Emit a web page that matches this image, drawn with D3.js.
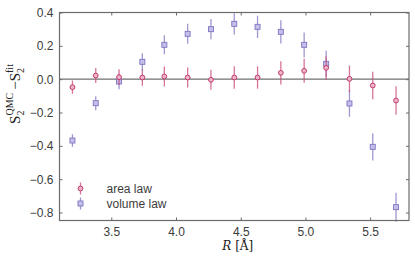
<!DOCTYPE html>
<html><head><meta charset="utf-8">
<script src="https://cdn.jsdelivr.net/npm/d3@7"></script>
<style>html,body{margin:0;padding:0;background:#fff;}svg{display:block;}</style>
</head><body>
<script>
const R = [3.20, 3.38, 3.56, 3.74, 3.91, 4.09, 4.27, 4.45, 4.63, 4.81, 4.99, 5.16, 5.34, 5.52, 5.70];
const areaLaw = [-0.048, 0.022, 0.012, 0.010, 0.016, 0.010, -0.004, 0.010, 0.010, 0.038, 0.050, 0.068, 0.002, -0.038, -0.128];
const areaErr = [0.040, 0.045, 0.047, 0.050, 0.060, 0.060, 0.060, 0.067, 0.067, 0.070, 0.072, 0.070, 0.080, 0.083, 0.085];
const volumeLaw = [-0.368, -0.144, -0.014, 0.104, 0.206, 0.272, 0.300, 0.332, 0.314, 0.284, 0.206, 0.092, -0.146, -0.406, -0.768];
const volumeErr = [0.038, 0.042, 0.047, 0.052, 0.057, 0.060, 0.061, 0.064, 0.067, 0.070, 0.074, 0.079, 0.080, 0.082, 0.087];
const xTicks = [3.5, 4.0, 4.5, 5.0, 5.5];
const yTicks = [0.4, 0.2, 0.0, -0.2, -0.4, -0.6, -0.8];
const seriesNames = ["area law", "volume law"];

const W = 415, H = 259;
const m = {left: 59.5, right: 6, top: 12.5, bottom: 38.5};
const svg = d3.select("body").append("svg").attr("width", W).attr("height", H);
const x = d3.scaleLinear().domain([3.1, 5.8]).range([m.left, W - m.right]);
const y = d3.scaleLinear().domain([-0.848, 0.4]).range([H - m.bottom, m.top]);

const axisColor = "#6b6b6b";
const font = "'Liberation Sans', Arial, sans-serif";
const textColor = "#3c3c3c";

// zero line
svg.append("line").attr("x1", x(3.1)).attr("x2", x(5.8)).attr("y1", y(0)).attr("y2", y(0))
  .attr("stroke", "#707070").attr("stroke-width", 1.4);

const colA = {stroke: "#c23a6c", fill: "#eeb4ca", bar: "#c8467a"};
const colV = {stroke: "#7d74c2", fill: "#c3bfe8", bar: "#7d74c2"};

function drawSeries(vals, errs, col, shape) {
  const g = svg.append("g");
  R.forEach((r, i) => {
    g.append("line").attr("x1", x(r)).attr("x2", x(r))
      .attr("y1", y(vals[i] - errs[i])).attr("y2", y(vals[i] + errs[i]))
      .attr("stroke", col.bar).attr("stroke-width", 1.3).attr("stroke-opacity", 0.75);
  });
  R.forEach((r, i) => {
    if (shape === "circle") {
      g.append("circle").attr("cx", x(r)).attr("cy", y(vals[i])).attr("r", 2.4)
        .attr("fill", col.fill).attr("stroke", col.stroke).attr("stroke-width", 1);
    } else {
      g.append("rect").attr("x", x(r) - 2.5).attr("y", y(vals[i]) - 2.5).attr("width", 5).attr("height", 5)
        .attr("fill", col.fill).attr("stroke", col.stroke).attr("stroke-width", 0.9);
    }
  });
}
drawSeries(volumeLaw, volumeErr, colV, "rect");
drawSeries(areaLaw, areaErr, colA, "circle");

// axes (inward ticks)
function styleAxis(g) {
  g.select(".domain").remove();
  g.selectAll(".tick line").attr("stroke", axisColor).attr("stroke-width", 1);
  g.selectAll(".tick text").attr("fill", textColor).attr("font-family", font).attr("font-size", 12);
}
const fmt = d => d3.format(".1f")(d).replace("-", "\u2212");
svg.append("g").attr("transform", `translate(0,${H - m.bottom})`)
  .call(d3.axisBottom(x).tickValues(xTicks).tickFormat(fmt).tickSizeInner(-3).tickSizeOuter(0).tickPadding(7))
  .call(styleAxis);
svg.append("g").attr("transform", `translate(0,${m.top})`)
  .call(d3.axisTop(x).tickValues(xTicks).tickFormat("").tickSizeInner(-3).tickSizeOuter(0))
  .call(styleAxis);
svg.append("g").attr("transform", `translate(${m.left},0)`)
  .call(d3.axisLeft(y).tickValues(yTicks).tickFormat(fmt).tickSizeInner(-3).tickSizeOuter(0).tickPadding(6))
  .call(styleAxis);
svg.append("g").attr("transform", `translate(${W - m.right},0)`)
  .call(d3.axisRight(y).tickValues(yTicks).tickFormat("").tickSizeInner(-3).tickSizeOuter(0))
  .call(styleAxis);

// frame
svg.append("rect").attr("x", m.left).attr("y", m.top)
  .attr("width", W - m.right - m.left).attr("height", H - m.bottom - m.top)
  .attr("fill", "none").attr("stroke", axisColor).attr("stroke-width", 1.2);

// x label
const xl = svg.append("text").attr("x", x(4.5) - 3).attr("y", 250)
  .attr("text-anchor", "middle").attr("font-family", "'DejaVu Serif','Liberation Serif', serif")
  .attr("font-size", 12).attr("fill", "#222");
xl.append("tspan").attr("font-style", "italic").text("R");
xl.append("tspan").text(" [Å]");

// y label
const yl = svg.append("text").attr("transform", `translate(20,94) rotate(-90)`)
  .attr("text-anchor", "middle").attr("font-family", "'Liberation Serif', 'DejaVu Serif', serif")
  .attr("font-size", 15).attr("fill", "#222");
yl.append("tspan").text("S");
yl.append("tspan").attr("font-size", 10).attr("dy", 4).attr("dx", 0).text("2");
yl.append("tspan").attr("font-size", 10).attr("dy", -11).attr("dx", -5).text("QMC");
yl.append("tspan").attr("dy", 7).attr("dx", 3).text("\u2212S");
yl.append("tspan").attr("font-size", 10).attr("dy", 4).attr("dx", 0).text("2");
yl.append("tspan").attr("font-size", 10).attr("dy", -11).attr("dx", -5).text("fit");

// legend
const leg = svg.append("g");
[[colA, "circle", 188.5], [colV, "rect", 203.5]].forEach(([col, shape, ly], i) => {
  const lx = 80.5;
  leg.append("line").attr("x1", lx).attr("x2", lx).attr("y1", ly - 6).attr("y2", ly + 6)
    .attr("stroke", col.bar).attr("stroke-width", 1.3).attr("stroke-opacity", 0.75);
  if (shape === "circle") {
    leg.append("circle").attr("cx", lx).attr("cy", ly).attr("r", 2.4)
      .attr("fill", col.fill).attr("stroke", col.stroke);
  } else {
    leg.append("rect").attr("x", lx - 2.5).attr("y", ly - 2.5).attr("width", 5).attr("height", 5)
      .attr("fill", col.fill).attr("stroke", col.stroke).attr("stroke-width", 0.9);
  }
  leg.append("text").attr("x", 106.5).attr("y", ly + 4).attr("font-family", font)
    .attr("font-size", 12).attr("fill", textColor).text(seriesNames[i]);
});
</script>
</body></html>
